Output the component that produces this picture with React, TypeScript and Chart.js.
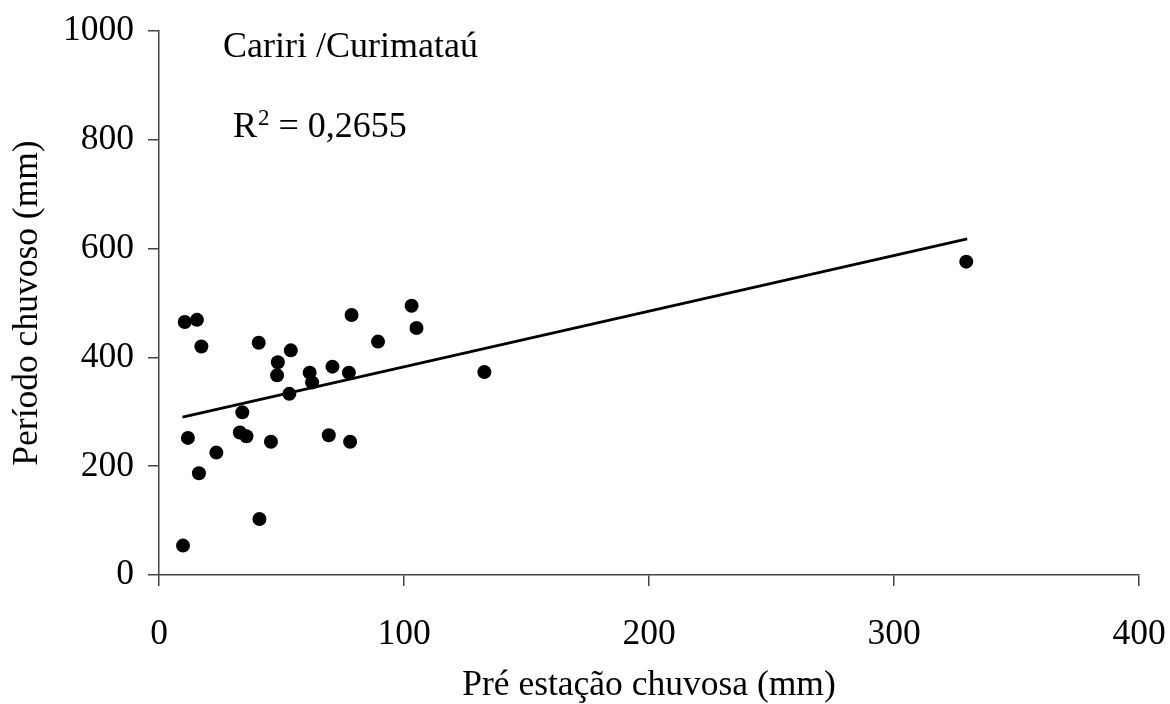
import React, { useEffect, useRef } from 'react';
import { Chart, registerables } from 'chart.js';

Chart.register(...registerables);

// Pré estação chuvosa (mm)
const preSeason: number[] = [
  9.8, 10.5, 15.5, 17.3, 40.7, 53.8, 48.5, 48.2, 61.5, 62.5,
  70.8, 77.5, 78.6, 89.4, 103.1, 105.1, 53.2, 34.0, 33.0, 35.7,
  45.7, 69.3, 78.0, 11.8, 23.4, 16.3, 41.0, 132.8, 329.5,
];
// Período chuvoso (mm)
const rainySeason: number[] = [
  54, 465, 469, 420, 427, 413, 391, 367, 372, 354,
  383, 372, 478, 429, 495, 454, 333, 299, 262, 255,
  245, 257, 245, 252, 225, 187, 103, 373, 576,
];
// linear trend line end points
const trendX: number[] = [9.6, 329.9];
const trendY: number[] = [290.3, 617.9];

const xTickValues: number[] = [0, 100, 200, 300, 400];
const yTickValues: number[] = [0, 200, 400, 600, 800, 1000];

const seriesLabel = 'Cariri /Curimataú';
const r2Text = '0,2655';
const xTitle = 'Pré estação chuvosa (mm)';
const yTitle = 'Período chuvoso (mm)';

const FONT = '"Liberation Serif", "Times New Roman", Times, serif';
const FS = 35.5;

const textPlugin = {
  id: 'annotText',
  afterDraw(chart: any) {
    const ctx = chart.ctx as CanvasRenderingContext2D;
    ctx.save();
    ctx.fillStyle = '#000';
    ctx.textBaseline = 'alphabetic';
    ctx.textAlign = 'left';
    ctx.font = `36px ${FONT}`;
    ctx.fillText(seriesLabel, 223, 57);
    // R² = 0,2655
    const x0 = 233;
    const base = 137;
    ctx.font = `36px ${FONT}`;
    ctx.fillText('R', x0, base);
    const rw = ctx.measureText('R').width;
    ctx.font = `23px ${FONT}`;
    ctx.fillText('2', x0 + rw + 1, base - 12);
    const sw = ctx.measureText('2').width;
    ctx.font = `36px ${FONT}`;
    ctx.fillText(' = ' + r2Text, x0 + rw + sw + 1, base);
    ctx.restore();
  },
};

export default function App() {
  const ref = useRef<HTMLCanvasElement | null>(null);
  useEffect(() => {
    if (!ref.current) return;
    const points = preSeason.map((x, i) => ({ x, y: rainySeason[i] }));
    const trend = trendX.map((x, i) => ({ x, y: trendY[i] }));
    const chart = new Chart(ref.current, {
      type: 'scatter',
      data: {
        datasets: [
          {
            label: seriesLabel,
            data: points,
            pointRadius: 7,
            pointHoverRadius: 7,
            pointBackgroundColor: '#000',
            pointBorderWidth: 0,
            borderColor: '#000',
            backgroundColor: '#000',
          },
          {
            type: 'line',
            label: 'trend',
            data: trend,
            showLine: true,
            pointRadius: 0,
            borderColor: '#000',
            borderWidth: 2.8,
            fill: false,
          } as any,
        ],
      },
      options: {
        animation: false,
        responsive: false,
        maintainAspectRatio: false,
        layout: { padding: { top: 31, right: 31, left: 0, bottom: 0 } },
        plugins: {
          legend: { display: false },
          tooltip: { enabled: false },
          title: { display: false },
        },
        scales: {
          x: {
            type: 'linear',
            min: 0,
            max: 400,
            afterBuildTicks: (s: any) => {
              s.ticks = xTickValues.map((v) => ({ value: v }));
            },
            afterFit: (s: any) => {
              s.height = 704 - 575;
              s.paddingLeft = 0;
              s.paddingRight = 0;
            },
            ticks: {
              color: '#000',
              font: { family: FONT, size: FS },
              padding: 27,
              maxRotation: 0,
              callback: (v: any) => String(v),
            },
            grid: {
              display: true,
              drawOnChartArea: false,
              drawTicks: true,
              tickLength: 11,
              color: '#444',
              lineWidth: 1.5,
            },
            border: { display: true, color: '#444', width: 1.5 },
            title: {
              display: true,
              text: xTitle,
              color: '#000',
              font: { family: FONT, size: FS, lineHeight: 1 },
              padding: { top: 0, bottom: 1 },
            },
          },
          y: {
            type: 'linear',
            min: 0,
            max: 1000,
            afterBuildTicks: (s: any) => {
              s.ticks = yTickValues.map((v) => ({ value: v }));
            },
            afterFit: (s: any) => {
              s.width = 159;
              s.paddingTop = 0;
              s.paddingBottom = 0;
            },
            ticks: {
              color: '#000',
              font: { family: FONT, size: FS },
              padding: 14,
              callback: (v: any) => String(v),
            },
            grid: {
              display: true,
              drawOnChartArea: false,
              drawTicks: true,
              tickLength: 11,
              color: '#444',
              lineWidth: 1.5,
            },
            border: { display: true, color: '#444', width: 1.5 },
            title: {
              display: true,
              text: yTitle,
              color: '#000',
              font: { family: FONT, size: FS, lineHeight: 1 },
              padding: { top: 10, bottom: 0 },
            },
          },
        },
      },
      plugins: [textPlugin],
    });
    return () => chart.destroy();
  }, []);
  return (
    <div style={{ position: 'absolute', left: 0, top: 0, width: 1170, height: 704, background: '#fff' }}>
      <canvas ref={ref} width={1170} height={704} style={{ display: 'block', width: 1170, height: 704 }} />
    </div>
  );
}
